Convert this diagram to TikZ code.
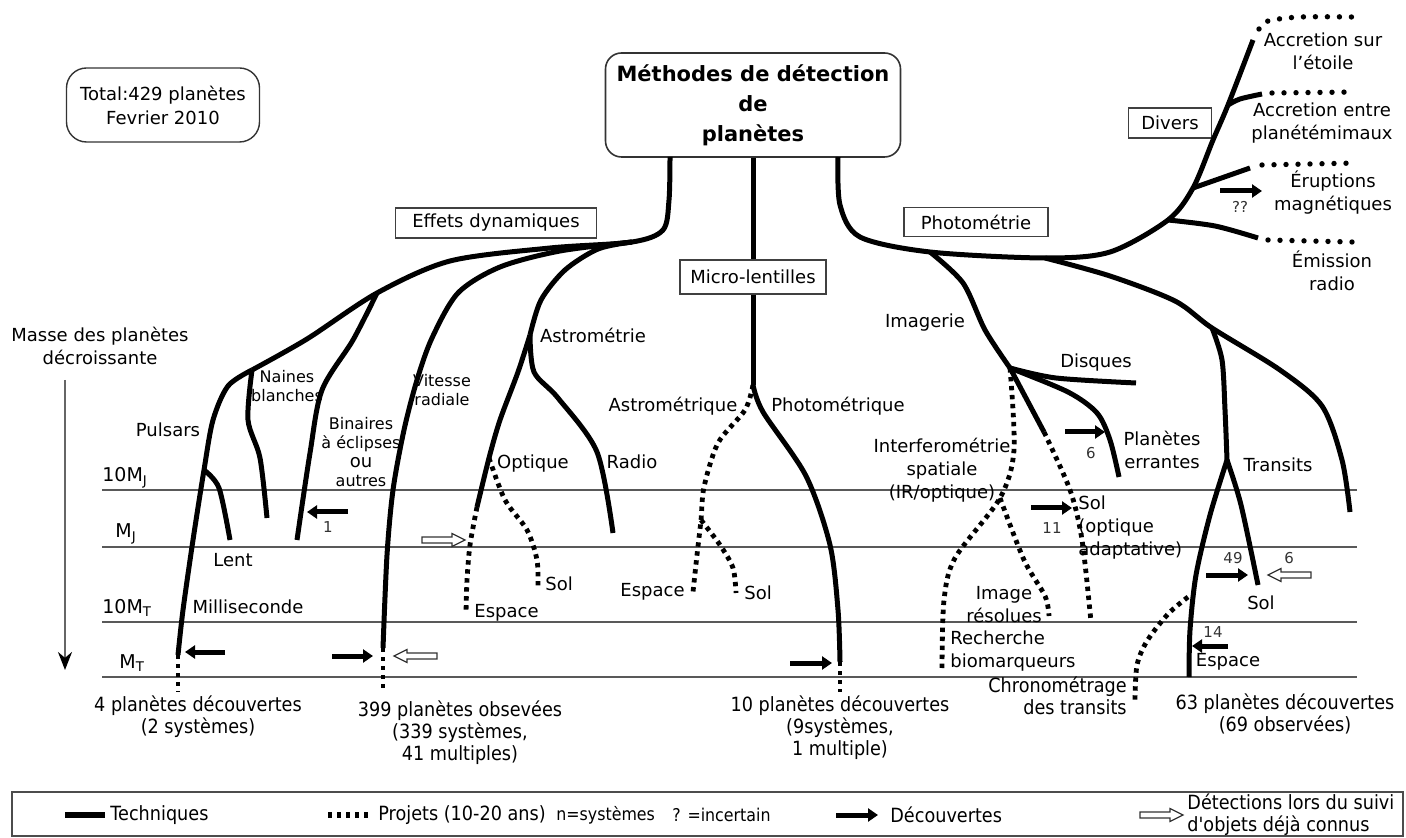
\documentclass[tikz,border=0pt]{standalone}
\usepackage{fontspec}
\setmainfont{DejaVu Sans}
\newfontfamily\condfont{DejaVu Sans}[FakeStretch=0.9]
\usetikzlibrary{arrows.meta,positioning}

\begin{document}
\begin{tikzpicture}[x=0.5pt, y=-0.5pt,
    tech/.style={line width=2.5pt, line join=round},
    projet/.style={line width=2.4pt, dash pattern=on 2.2pt off 2.3pt},
    pointille/.style={line width=2.7pt, line cap=round, dash pattern=on 0pt off 6pt},
    niveau/.style={draw=black!65, line width=0.9pt},
    decouv/.style={line width=2.5pt, -{Triangle[length=5pt,width=6.5pt]}},
    rubrique/.style={draw=black!75, line width=0.7pt, inner sep=0pt,
      font=\fontsize{9}{11}\selectfont},
    lab/.style={font=\fontsize{9}{11.5}\selectfont, align=center, inner sep=0pt},
    petit/.style={font=\fontsize{8}{9.5}\selectfont, align=center, inner sep=0pt},
    nombre/.style={font=\fontsize{7.5}{9}\selectfont, text=black!80, inner sep=0pt},
    bilan/.style={font=\condfont\fontsize{9.8}{11}\selectfont, align=center, inner sep=0pt},
    masse/.style={font=\fontsize{9.5}{11}\selectfont, inner sep=0pt, anchor=base west},
    vide/.pic={\draw[black!80, line width=0.6pt, fill=white]
      (0,-3) -- (30,-3) -- (30,-6.5) -- (43,0) -- (30,6.5) -- (30,3) -- (0,3) -- cycle;}
  ]
  \useasboundingbox (0,0) rectangle (1406,838);

  % boites
  \node[draw=black!80, line width=0.8pt, rounded corners=8pt, align=center,
    minimum width=147.5pt, minimum height=52pt, inner sep=0pt,
    font=\bfseries\fontsize{10.5}{15}\selectfont] (titre) at (753,105)
    {Méthodes de détection\\de\\planètes};
  \node[draw=black!80, line width=0.7pt, rounded corners=10pt, align=center,
    minimum width=96.5pt, minimum height=37pt, inner sep=0pt,
    font=\fontsize{9}{12}\selectfont] (total) at (163,105)
    {Total:429 planètes\\Fevrier 2010};
  \node[rubrique, minimum width=100.5pt, minimum height=15pt] (effets) at (496,223) {Effets dynamiques};
  \node[rubrique, minimum width=73pt, minimum height=17pt] (micro) at (753,277) {Micro-lentilles};
  \node[rubrique, minimum width=72pt, minimum height=14.5pt] (photo) at (976,222) {Photométrie};
  \node[rubrique, minimum width=41.5pt, minimum height=15pt] (divers) at (1170,123) {Divers};

  % niveaux de masse
  \foreach \yy/\nom in {490/dixMJ, 547/MJ, 622/dixMT, 677/MT} {
    \coordinate (\nom-g) at (102,\yy);
    \coordinate (\nom-d) at (1357,\yy);
    \draw[niveau] (\nom-g) -- (\nom-d);
  }
  \node[masse] at (102,482) {10M\textsubscript{J}};
  \node[masse] at (115,538) {M\textsubscript{J}};
  \node[masse] at (102,613) {10M\textsubscript{T}};
  \node[masse] at (119,668) {M\textsubscript{T}};
  \coordinate (fhaut) at (65,380);
  \coordinate (fbas) at (65,670);
  \draw[black!60, line width=1pt, -{Stealth[length=9pt,width=7pt,color=black]}] (fhaut) -- (fbas);
  \node[lab] (masse) at (100,346) {Masse des planètes\\décroissante};

  % points de branchement
  \coordinate (tL) at (670,157);
  \coordinate (tR) at (838,157);
  \coordinate (jL) at (632,242);
  \coordinate (jB) at (377,293);
  \coordinate (jN) at (252,370);
  \coordinate (jP) at (204,470);
  \coordinate (pulsE) at (178,655);
  \coordinate (pulsB) at (178,692);
  \coordinate (naiE) at (267,518);
  \coordinate (lentE) at (230,540);
  \coordinate (binE) at (297,540);
  \coordinate (vitE) at (383,648);
  \coordinate (vitB) at (383,692);
  \coordinate (jA) at (530,335);
  \coordinate (jO) at (489,458);
  \coordinate (optE) at (477,507);
  \coordinate (espA) at (466,613);
  \coordinate (solA) at (538,588);
  \coordinate (radE) at (613,533);
  \coordinate (jM) at (753,385);
  \coordinate (phoE) at (840,662);
  \coordinate (phoB) at (840,692);
  \coordinate (jAs) at (701,520);
  \coordinate (espM) at (693,592);
  \coordinate (solM) at (736,593);
  \coordinate (jI) at (930,252);
  \coordinate (jR) at (1045,258);
  \coordinate (jEm) at (1168,220);
  \coordinate (jEr) at (1193,188);
  \coordinate (jAc) at (1228,105);
  \coordinate (accE) at (1253,40);
  \coordinate (acc2E) at (1262,94);
  \coordinate (eruE) at (1250,168);
  \coordinate (emiE) at (1258,238);
  \coordinate (jIm) at (1010,368);
  \coordinate (disE) at (1136,383);
  \coordinate (errE) at (1119,477);
  \coordinate (jSo) at (1044,432);
  \coordinate (solI) at (1091,622);
  \coordinate (jIf) at (1000,498);
  \coordinate (recE) at (942,668);
  \coordinate (resE) at (1049,616);
  \coordinate (jT) at (1212,328);
  \coordinate (farE) at (1350,512);
  \coordinate (jTr) at (1227,460);
  \coordinate (traE) at (1189,677);
  \coordinate (traS) at (1258,585);
  \coordinate (chrA) at (1188,597);
  \coordinate (chrE) at (1135,700);

  % effets dynamiques
  \draw[tech] plot[smooth] coordinates {(tL) (669,200) (663,230) (jL) (550,248) (450,261) (jB) (307,339) (jN)};
  \draw[tech] plot[smooth] coordinates {(jN) (228,386) (213,420) (jP) (193,540) (183,610) (pulsE)};
  \draw[projet] (pulsE) -- (pulsB);
  \draw[tech] plot[smooth] coordinates {(jN) (248,420) (260,458) (naiE)};
  \draw[tech] plot[smooth] coordinates {(jP) (219,488) (lentE)};
  \draw[tech] plot[smooth] coordinates {(jB) (353,340) (322,390) (310,453) (binE)};
  \draw[tech] plot[smooth] coordinates {(jL) (560,251) (500,267) (458,293) (432,338) (417,380) (404,430) (393,490) (387,555) (vitE)};
  \draw[projet] (vitE) -- (vitB);
  \draw[tech] plot[smooth] coordinates {(jL) (598,249) (565,270) (541,300) (jA)};
  \draw[tech] plot[smooth] coordinates {(jA) (518,372) (500,420) (jO) (optE)};
  \draw[projet] plot[smooth] coordinates {(optE) (470,545) (467,580) (espA)};
  \draw[projet] plot[smooth] coordinates {(jO) (505,500) (527,530) (537,560) (solA)};
  \draw[tech] plot[smooth] coordinates {(jA) (534,372) (558,398) (597,452) (radE)};

  % micro-lentilles
  \draw[tech] (titre.south) -- (micro.north);
  \draw[tech] (micro.south) -- (jM);
  \draw[tech] plot[smooth] coordinates {(jM) (763,412) (806,476) (830,545) (838,610) (phoE)};
  \draw[projet] (phoE) -- (phoB);
  \draw[projet] plot[smooth] coordinates {(jM) (745,410) (718,443) (704,487) (jAs) (697,555) (espM)};
  \draw[projet] plot[smooth] coordinates {(jAs) (720,545) (733,568) (solM)};

  % photometrie et divers
  \draw[tech] plot[smooth] coordinates {(tR) (840,205) (860,237) (jI) (jR) (1110,252) (jEm) (jEr) (1213,140) (jAc) (accE)};
  \draw[tech] plot[smooth] coordinates {(jAc) (1240,99) (acc2E)};
  \draw[tech] (jEr) -- (eruE);
  \draw[tech] plot[smooth] coordinates {(jEm) (1215,226) (emiE)};
  \draw[pointille] plot[smooth] coordinates {(1259,29) (1268,21) (1300,17) (1352,17)};
  \draw[pointille] (1272,93) -- (1355,92);
  \draw[pointille] (1262,165) -- (1357,163);
  \draw[pointille] (1268,240) -- (1352,242);

  \draw[tech] plot[smooth] coordinates {(jI) (963,283) (985,330) (jIm)};
  \draw[tech] plot[smooth] coordinates {(jIm) (1056,378) (disE)};
  \draw[tech] plot[smooth] coordinates {(jIm) (1068,392) (1097,413) (1110,440) (errE)};
  \draw[tech] (jIm) -- (jSo);
  \draw[projet] plot[smooth] coordinates {(jSo) (1070,490) (1082,540) (solI)};
  \draw[projet] plot[smooth] coordinates {(jIm) (1014,450) (jIf) (955,558) (944,600) (recE)};
  \draw[projet] plot[smooth] coordinates {(jIf) (1024,560) (1045,596) (resE)};

  \draw[tech] plot[smooth] coordinates {(jR) (1110,276) (1175,301) (jT) (1280,370) (1322,406) (1342,460) (farE)};
  \draw[tech] plot[smooth] coordinates {(jT) (1222,360) (1225,410) (jTr)};
  \draw[tech] plot[smooth] coordinates {(jTr) (1210,515) (1196,575) (1190,630) (traE)};
  \draw[tech] plot[smooth] coordinates {(jTr) (1241,505) (traS)};
  \draw[projet] plot[smooth] coordinates {(chrA) (1168,614) (1147,641) (1137,665) (chrE)};

  % fleches
  \draw[decouv] (225,652) -- ++(-40,0);
  \draw[decouv] (348,512) -- ++(-41,0);
  \node[nombre] at (328,527) {1};
  \pic at (422,540) {vide};
  \draw[decouv] (332,656) -- ++(41,0);
  \pic[xscale=-1] at (437,656) {vide};
  \draw[decouv] (790,663) -- ++(42,0);
  \draw[decouv] (1065,432) -- ++(40,0);
  \node[nombre] at (1091,453) {6};
  \draw[decouv] (1031,508) -- ++(41,0);
  \node[nombre] at (1052,528) {11};
  \draw[decouv] (1206,575) -- ++(42,0);
  \node[nombre] at (1233,558) {49};
  \pic[xscale=-1] at (1311,575) {vide};
  \node[nombre] at (1289,558) {6};
  \draw[decouv] (1228,646) -- ++(-36,0);
  \node[nombre] at (1213,632) {14};
  \draw[decouv] (1220,191) -- ++(42,0);
  \node[nombre] at (1240,207) {??};

  % textes
  \node[lab] at (168,430) {Pulsars};
  \node[petit] at (287,386) {Naines\\blanches};
  \node[petit] at (361,452) {Binaires\\à éclipses\\{\fontsize{9}{9.5}\selectfont ou}\\autres};
  \node[petit] at (442,390) {Vitesse\\radiale};
  \node[lab] at (233,560) {Lent};
  \node[lab] at (248,607) {Milliseconde};
  \node[lab] at (593,335) {Astrométrie};
  \node[lab] at (533,464) {Optique};
  \node[lab] at (632,462) {Radio};
  \node[lab, right=3.5pt of solA, yshift=2pt] {Sol};
  \node[lab, right=4pt of espA] {Espace};
  \node[lab] at (673,406) {Astrométrique};
  \node[lab] at (838,406) {Photométrique};
  \node[lab, left=4pt of espM] {Espace};
  \node[lab, right=4pt of solM] {Sol};
  \node[lab] at (925,323) {Imagerie};
  \node[lab] at (1096,363) {Disques};
  \node[lab] at (1162,450) {Planètes\\errantes};
  \node[lab] at (942,470) {Interferométrie\\spatiale\\(IR/optique)};
  \node[lab] at (1278,465) {Transits};
  \node[lab, align=left, anchor=west] at (1078,528) {Sol\\(optique\\adaptative)};
  \node[lab] at (1004,605) {Image\\résolues};
  \node[lab, align=left, anchor=west] at (950,651) {Recherche\\biomarqueurs};
  \node[lab] at (1261,603) {Sol};
  \node[lab] at (1228,662) {Espace};
  \node[lab] at (1323,51) {Accretion sur\\l'étoile};
  \node[lab] at (1322,123) {Accretion entre\\planétémimaux};
  \node[lab] at (1333,193) {Éruptions\\magnétiques};
  \node[lab] at (1332,271) {Émission\\radio};

  % bilans
  \node[bilan] at (198,717) {4 planètes découvertes\\(2 systèmes)};
  \node[bilan] at (460,733) {399 planètes obsevées\\(339 systèmes,\\41 multiples)};
  \node[bilan] at (840,728) {10 planètes découvertes\\(9systèmes,\\1 multiple)};
  \node[bilan, align=right, anchor=east] at (1127,696) {Chronométrage\\des transits};
  \node[bilan] at (1285,714) {63 planètes découvertes\\(69 observées)};

  % legende
  \node[draw=black!70, line width=0.8pt, minimum width=695.5pt, minimum height=22pt,
    inner sep=0pt] (legende) at (707.5,814) {};
  \coordinate (lg1) at (65,815);
  \coordinate (lg2) at (105,815);
  \coordinate (lg3) at (328,815);
  \coordinate (lg4) at (370,815);
  \coordinate (lg5) at (836,815);
  \coordinate (lg6) at (878,815);
  \draw[tech, line width=3pt] (lg1) -- (lg2);
  \node[bilan, right=2.5pt of lg2] {Techniques};
  \draw[projet, line width=3pt] (lg3) -- (lg4);
  \node[bilan, right=4pt of lg4] {Projets (10-20 ans)};
  \node[bilan, anchor=west, font=\condfont\fontsize{8.8}{11}\selectfont] at (556,815) {n=systèmes};
  \node[bilan, anchor=west, font=\condfont\fontsize{8.8}{11}\selectfont] at (672,815) {? =incertain};
  \draw[decouv] (lg5) -- (lg6);
  \node[bilan, right=6pt of lg6] {Découvertes};
  \pic at (1140,815) {vide};
  \node[bilan, align=left, anchor=west] at (1187,815) {Détections lors du suivi\\d'objets déjà connus};
\end{tikzpicture}
\end{document}
